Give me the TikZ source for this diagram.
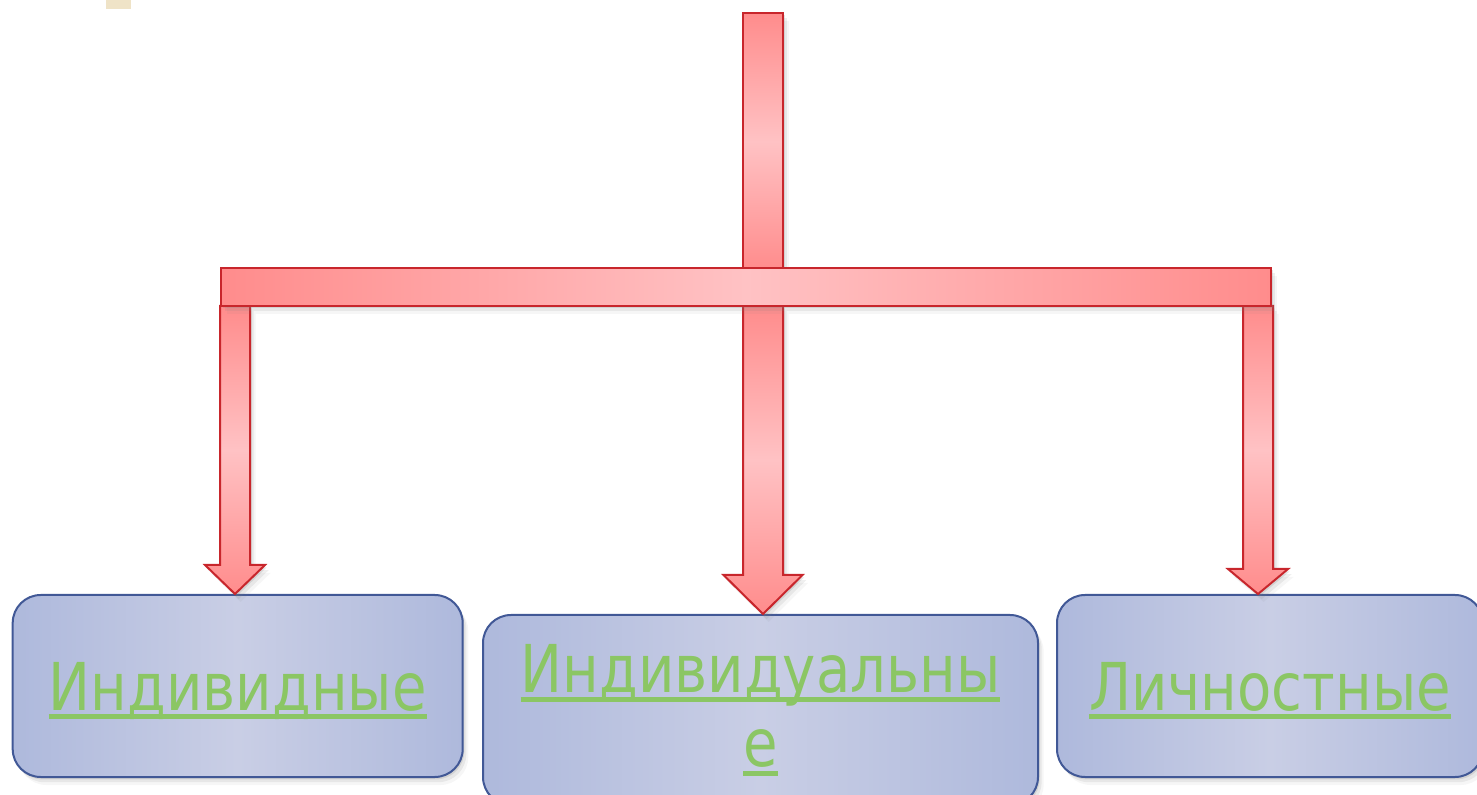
\documentclass[tikz,border=0pt]{standalone}
\usepackage{fontspec}
\setmainfont[FakeStretch=0.85]{DejaVu Sans}
\usepackage{tikz}
\usetikzlibrary{calc,shadows}

\definecolor{arrdark}{RGB}{255,140,140}
\definecolor{arrlight}{RGB}{255,194,196}
\definecolor{arrline}{RGB}{200,38,44}
\definecolor{boxin}{RGB}{201,206,229}
\definecolor{boxout}{RGB}{174,185,220}
\definecolor{boxline}{RGB}{65,88,150}
\definecolor{linkgreen}{RGB}{139,198,100}
\definecolor{tabbeige}{RGB}{239,227,199}

\newsavebox{\lnkbox}
\newcommand{\lnk}[1]{\sbox{\lnkbox}{#1}\rlap{\rule[-4.5pt]{\wd\lnkbox}{2.5pt}}\usebox{\lnkbox}}
\newcommand{\blockarr}[5]{\path[arrow_fill] let \p1=(#1), \p2=(#2) in
  (\x1-#3,\y1) -- (\x1+#3,\y1) -- (\x1+#3,\y2+#5) -- (\x1+#4,\y2+#5) -- (\x1,\y2)
  -- (\x1-#4,\y2+#5) -- (\x1-#3,\y2+#5) -- cycle;}

\begin{document}
\begin{tikzpicture}[x=0.5pt,y=-0.5pt,
  shade_drop/.style={drop shadow={shadow xshift=0.8pt,shadow yshift=-1.2pt,opacity=0.2},
    drop shadow={shadow xshift=1.8pt,shadow yshift=-2.6pt,opacity=0.13},
    drop shadow={shadow xshift=2.8pt,shadow yshift=-4pt,opacity=0.07}},
  bar_node/.style={rectangle,draw=arrline,line width=1pt,inner sep=0pt,shade_drop},
  arrow_fill/.style={draw=arrline,line width=1pt,top color=arrdark,bottom color=arrdark,middle color=arrlight,shade_drop},
  box_node/.style={rectangle,rounded corners=14pt,draw=boxline,line width=1pt,left color=boxout,right color=boxout,middle color=boxin,
    text=linkgreen,font=\fontsize{33}{37}\selectfont,align=center,minimum height=91pt,shade_drop}]
    \useasboundingbox (0,0) rectangle (1477,795);
    \fill[tabbeige] (106,-2) rectangle (131,9);
	\node[bar_node,top color=arrdark,bottom color=arrdark,middle color=arrlight,minimum width=20pt,minimum height=128.5pt] (top) at (763,141.5) {};
    \node[box_node,minimum width=225pt,text depth=0pt] (ind) at (237.7,686) {\lnk{Индивидные}};
    \node[box_node,minimum width=277.5pt,minimum height=95pt] (indv) at (760.5,710) {\lnk{Индивидуальны}\\\lnk{е}};
    \node[box_node,minimum width=213pt,text depth=0pt] (lich) at (1270,686) {\lnk{Личностные}};
    \path (221,306) coordinate (hsw) (1271,306) coordinate (hse);
    \blockarr{$(hsw)+(14,0)$}{ind.north}{7.5pt}{15pt}{14.5pt}
    \blockarr{top |- hsw}{indv.north}{10pt}{19.75pt}{19.5pt}
    \blockarr{$(hse)+(-13,0)$}{lich.north}{7.5pt}{15pt}{12.5pt}
    \node[bar_node,left color=arrdark,right color=arrdark,middle color=arrlight,minimum width=525pt,minimum height=19pt] (hbar) at (746,287) {};
\end{tikzpicture}
\end{document}
